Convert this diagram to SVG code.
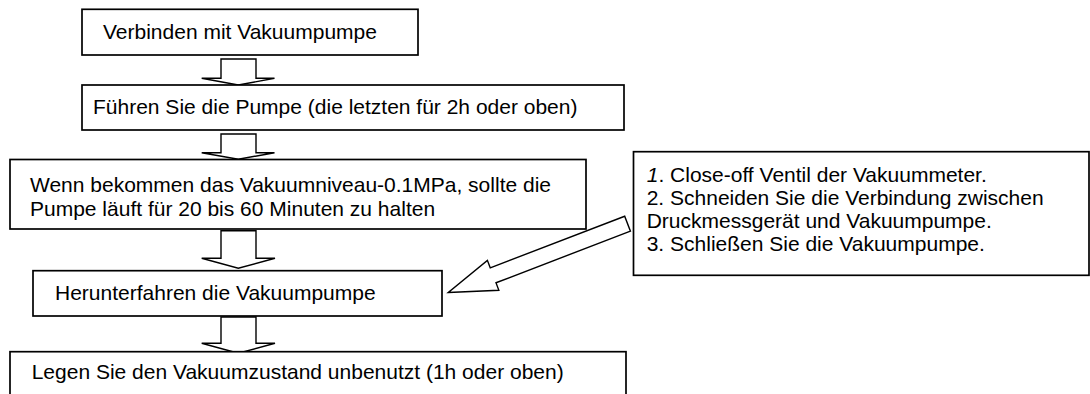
<svg xmlns="http://www.w3.org/2000/svg" width="1090" height="394" viewBox="0 0 1090 394">
<style>
.box{fill:#fff;stroke:#000;stroke-width:1.7}
.arr{fill:#fff;stroke:#000;stroke-width:1.4;stroke-linejoin:miter}
.t{font-family:"Liberation Sans",Arial,sans-serif;font-size:21px;fill:#000}
</style>
<rect width="1090" height="394" fill="#fff"/>
<g id="connectors">
<polygon class="arr" points="221,59 256,59 256,78.3 274.5,78.3 238.3,85 201.7,78.3 221,78.3"/>
<polygon class="arr" points="221,134 256,134 256,152.7 274.5,152.7 238.3,159.3 201.7,152.7 221,152.7"/>
<polygon class="arr" points="221,230.7 256,230.7 256,258.3 275,258.3 238.3,268.3 201.7,258.3 221,258.3"/>
<polygon class="arr" points="221,317 256,317 256,343.3 275,343.3 238.3,353.3 201.7,343.3 221,343.3"/>
<polygon class="arr" transform="translate(448.3,292.5) rotate(159)" points="0,0 -48,-16 -48,-8 -192,-8 -192,8 -48,8 -48,16"/>
</g>
<g id="n1">
<rect class="box" x="82" y="9.3" width="336" height="45.7"/>
<text class="t" x="103" y="39">Verbinden mit Vakuumpumpe</text>
</g>
<g id="n2">
<rect class="box" x="82" y="85" width="542" height="45"/>
<text class="t" x="93" y="114">Führen Sie die Pumpe (die letzten für 2h oder oben)</text>
</g>
<g id="n3">
<rect class="box" x="10" y="159.5" width="576" height="69.5"/>
<text class="t" x="30" y="192">Wenn bekommen das Vakuumniveau-0.1MPa, sollte die</text>
<text class="t" x="30" y="216">Pumpe läuft für 20 bis 60 Minuten zu halten</text>
</g>
<g id="n4">
<rect class="box" x="33" y="270.7" width="409" height="45.3"/>
<text class="t" x="55" y="300">Herunterfahren die Vakuumpumpe</text>
</g>
<g id="n5">
<rect class="box" x="10" y="351.7" width="616" height="60"/>
<text class="t" x="31.7" y="379">Legen Sie den Vakuumzustand unbenutzt (1h oder oben)</text>
</g>
<g id="n6">
<rect class="box" x="633.5" y="151.7" width="455.5" height="123.6"/>
<text class="t" x="646.7" y="182"><tspan font-style="italic">1</tspan>. Close-off Ventil der Vakuummeter.</text>
<text class="t" x="646.7" y="205">2. Schneiden Sie die Verbindung zwischen</text>
<text class="t" x="646.7" y="228">Druckmessgerät und Vakuumpumpe.</text>
<text class="t" x="646.7" y="251">3. Schließen Sie die Vakuumpumpe.</text>
</g>
</svg>
